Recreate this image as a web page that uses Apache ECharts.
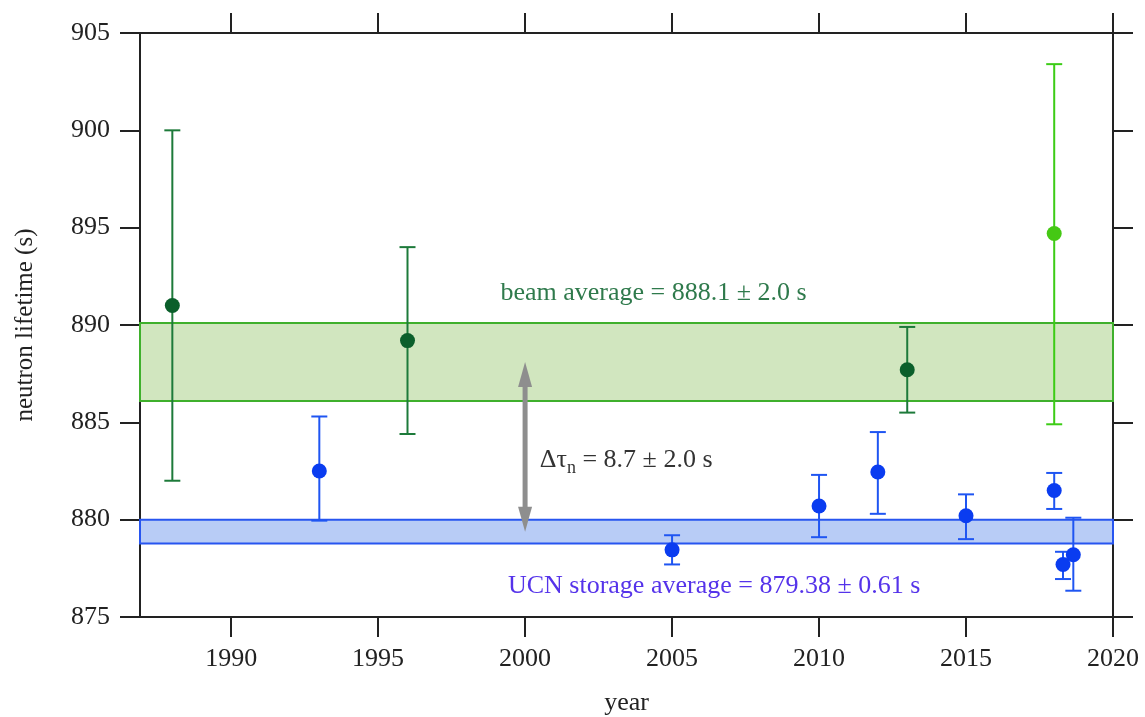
<!DOCTYPE html>
<html>
<head>
<meta charset="utf-8">
<script src="https://cdn.jsdelivr.net/npm/echarts@6/dist/echarts.min.js"></script>
<style>html,body{margin:0;padding:0;background:#fff}#c{width:1145px;height:717px}</style>
</head>
<body>
<div id="c"></div>
<script>
// ---- data ----
const xTicks = [1990, 1995, 2000, 2005, 2010, 2015, 2020];
const yTicks = [875, 880, 885, 890, 895, 900, 905];

const beamYears  = [1988, 1996, 2013];
const beamValues = [891.0, 889.2, 887.7];
const beamLow    = [882.0, 884.4, 885.5];
const beamHigh   = [900.0, 894.0, 889.9];

const beamNewYears  = [2018];
const beamNewValues = [894.7];
const beamNewLow    = [884.9];
const beamNewHigh   = [903.4];

const ucnYears  = [1993, 2005, 2010, 2012, 2015, 2018, 2018.3, 2018.65];
const ucnValues = [882.5, 878.45, 880.7, 882.45, 880.2, 881.5, 877.7, 878.2];
const ucnLow    = [879.95, 877.7, 879.1, 880.3, 879.0, 880.55, 876.95, 876.35];
const ucnHigh   = [885.3, 879.2, 882.3, 884.5, 881.3, 882.4, 878.35, 880.1];

const beamBand = [886.1, 890.1];
const ucnBand  = [878.77, 879.99];

const arrowYear = 2000;
const arrowEnds = [879.38, 888.1];

const beamLabel = { x: 2004.37, y: 891.65, text: 'beam average = 888.1 ± 2.0 s' };
const ucnLabel  = { x: 2006.43, y: 876.6,  text: 'UCN storage average = 879.38 ± 0.61 s' };
const diffLabel = { x: 2000.5,  y: 883.05, main: 'Δτ', sub: 'n', rest: ' = 8.7 ± 2.0 s' };

// ---- helpers ----
const FONT = '"Liberation Serif", "DejaVu Serif", serif';
const DARK = '#222';

function errData(xs, lo, hi) { return xs.map((x, i) => [x, lo[i], hi[i]]); }
function ptData(xs, vs) { return xs.map((x, i) => [x, vs[i]]); }

function errorBarSeries(data, color) {
  return {
    type: 'custom', data: data, z: 5,
    renderItem: function (params, api) {
      const x = api.value(0);
      const lo = api.coord([x, api.value(1)]);
      const hi = api.coord([x, api.value(2)]);
      const half = 8;
      const st = { stroke: color, lineWidth: 2 };
      return {
        type: 'group',
        children: [
          { type: 'line', shape: { x1: lo[0], y1: lo[1], x2: hi[0], y2: hi[1] }, style: st },
          { type: 'line', shape: { x1: lo[0] - half, y1: lo[1], x2: lo[0] + half, y2: lo[1] }, style: st },
          { type: 'line', shape: { x1: hi[0] - half, y1: hi[1], x2: hi[0] + half, y2: hi[1] }, style: st }
        ]
      };
    }
  };
}

function pointSeries(data, color) {
  return {
    type: 'scatter', data: data, symbol: 'circle', symbolSize: 15, z: 6,
    itemStyle: { color: color, opacity: 1 }
  };
}

const chart = echarts.init(document.getElementById('c'), null, { renderer: 'canvas' });

const axisLineStyle = { show: true, lineStyle: { color: DARK, width: 2 } };
const tickStyle = { show: true, inside: false, length: 20, lineStyle: { color: DARK, width: 2 } };

const option = {
  backgroundColor: '#fff',
  animation: false,
  grid: { left: 140, right: 32, top: 33, bottom: 100, containLabel: false, outerBoundsMode: 'none' },
  xAxis: [
    {
      type: 'value', position: 'bottom', min: 1986.9, max: 2020,
      axisLine: axisLineStyle,
      axisTick: Object.assign({ customValues: xTicks }, tickStyle),
      axisLabel: { customValues: xTicks, formatter: v => String(v), margin: 29,
                   color: DARK, fontFamily: FONT, fontSize: 26 },
      splitLine: { show: false },
      name: 'year', nameLocation: 'middle', nameGap: 73,
      nameTextStyle: { color: DARK, fontFamily: FONT, fontSize: 26 }
    },
    {
      type: 'value', position: 'top', min: 1986.9, max: 2020,
      axisLine: axisLineStyle,
      axisTick: Object.assign({ customValues: xTicks }, tickStyle),
      axisLabel: { show: false },
      splitLine: { show: false }
    }
  ],
  yAxis: [
    {
      type: 'value', position: 'left', min: 875, max: 905, interval: 5,
      axisLine: axisLineStyle,
      axisTick: tickStyle,
      axisLabel: { formatter: v => String(v), margin: 30, color: DARK, fontFamily: FONT, fontSize: 26 },
      splitLine: { show: false },
      name: 'neutron lifetime (s)', nameLocation: 'middle', nameGap: 102, nameRotate: 90,
      nameTextStyle: { color: DARK, fontFamily: FONT, fontSize: 25 }
    },
    {
      type: 'value', position: 'right', min: 875, max: 905, interval: 5,
      axisLine: axisLineStyle,
      axisTick: tickStyle,
      axisLabel: { show: false },
      splitLine: { show: false }
    }
  ],
  series: [
    // bands
    {
      type: 'line', data: [], z: 1,
      markArea: {
        silent: true,
        data: [
          [{ yAxis: beamBand[0], itemStyle: { color: '#d1e6bf', borderColor: '#3fb02c', borderWidth: 2 } }, { yAxis: beamBand[1] }],
          [{ yAxis: ucnBand[0], itemStyle: { color: '#b8ccf6', borderColor: '#2755f0', borderWidth: 2 } }, { yAxis: ucnBand[1] }]
        ]
      }
    },
    // arrow
    {
      type: 'custom', data: [[arrowYear, arrowEnds[0], arrowEnds[1]]], z: 4,
      renderItem: function (params, api) {
        const b = api.coord([api.value(0), api.value(1)]);
        const t = api.coord([api.value(0), api.value(2)]);
        const hw = 7, hl = 25, col = '#8e8e8e';
        return {
          type: 'group',
          children: [
            { type: 'line', shape: { x1: b[0], y1: b[1] - hl + 2, x2: t[0], y2: t[1] + hl - 2 },
              style: { stroke: col, lineWidth: 5 } },
            { type: 'polygon', shape: { points: [[t[0], t[1]], [t[0] - hw, t[1] + hl], [t[0] + hw, t[1] + hl]] },
              style: { fill: col } },
            { type: 'polygon', shape: { points: [[b[0], b[1]], [b[0] - hw, b[1] - hl], [b[0] + hw, b[1] - hl]] },
              style: { fill: col } }
          ]
        };
      }
    },
    errorBarSeries(errData(beamYears, beamLow, beamHigh), '#1d7a3a'),
    errorBarSeries(errData(beamNewYears, beamNewLow, beamNewHigh), '#3ccc16'),
    errorBarSeries(errData(ucnYears, ucnLow, ucnHigh), '#1f55f2'),
    pointSeries(ptData(beamYears, beamValues), '#0b5f2b'),
    pointSeries(ptData(beamNewYears, beamNewValues), '#45c814'),
    pointSeries(ptData(ucnYears, ucnValues), '#0a3cf0'),
    // labels
    {
      type: 'custom', z: 7,
      data: [[beamLabel.x, beamLabel.y, 0], [ucnLabel.x, ucnLabel.y, 1], [diffLabel.x, diffLabel.y, 2]],
      renderItem: function (params, api) {
        const p = api.coord([api.value(0), api.value(1)]);
        const k = api.value(2);
        if (k === 0) {
          return { type: 'text', x: p[0], y: p[1],
            style: { text: beamLabel.text, fill: '#2f7a4c', font: '26px ' + FONT, align: 'center', verticalAlign: 'middle' } };
        }
        if (k === 1) {
          return { type: 'text', x: p[0], y: p[1],
            style: { text: ucnLabel.text, fill: '#5533ea', font: '26px ' + FONT, align: 'center', verticalAlign: 'middle' } };
        }
        return { type: 'text', x: p[0], y: p[1],
          style: {
            text: '{a|' + diffLabel.main + '}{s|' + diffLabel.sub + '}{a|' + diffLabel.rest + '}',
            align: 'left', verticalAlign: 'middle',
            rich: {
              a: { fill: '#333', fontFamily: FONT, fontSize: 26, lineHeight: 30 },
              s: { fill: '#333', fontFamily: FONT, fontSize: 18, lineHeight: 30, padding: [16, 0, 0, 0] }
            }
          } };
      }
    }
  ]
};
chart.setOption(option);
</script>
</body>
</html>
